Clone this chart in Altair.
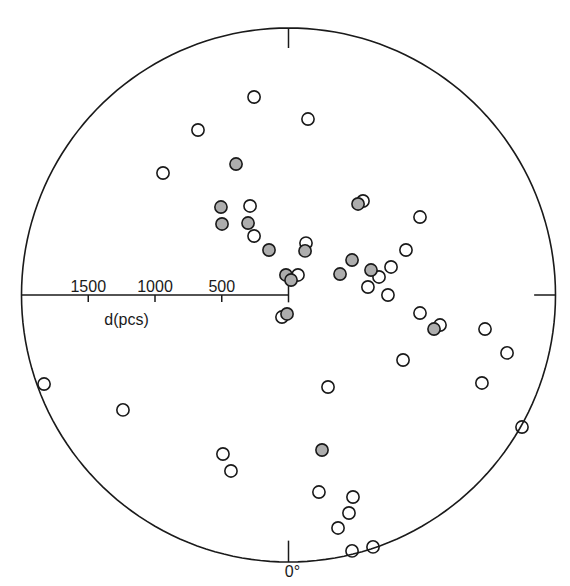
import altair as alt
import pandas as pd

# ---- data (projected positions in pc) ----
open_x = [-258, 146, -678, -940, -288, -258, 131, 71, -49, 558, 985, 880, 768, 678, 595,
          745, 985, 1135, 1472, 1637, 858, 1449, 1749, -1831, -1240, -491, -431, 296,
          228, 483, 453, 371, 476, 633]
open_y = [1483, 1318, 1236, 914, 667, 442, 389, 150, -165, 704, 584, 337, 210, 135, 60,
          0, -135, -225, -255, -434, -487, -659, -989, -667, -861, -1191, -1318, -689,
          -1476, -1513, -1633, -1745, -1917, -1887]

dot_x = [-393, -506, -498, -303, -146, 124, -19, 19, -11, 521, 476, 618, 386, 1090, 251]
dot_y = [981, 659, 532, 539, 337, 330, 150, 112, -142, 682, 262, 187, 157, -255, -1161]

tick_vals = [500, 1000, 1500]
tick_labels = ["500", "1000", "1500"]
R = 2000

# ---- layout ----
W, H = 554, 566
K = 0.1335          # px per pc
CX, CY = 280.5, 287  # centre in plot px
xs = alt.Scale(domain=[-CX / K, (W - CX) / K], nice=False, zero=False)
ys = alt.Scale(domain=[-(H - CY) / K, CY / K], nice=False, zero=False)
FONT = "Liberation Sans"
INK = "#1a1a1a"
FS = 16

pts_open = pd.DataFrame({"x": open_x, "y": open_y})
pts_dot = pd.DataFrame({"x": dot_x, "y": dot_y})

# outer circle
circle = alt.Chart(alt.sequence(0, 362, 2, as_="a")).transform_calculate(
    cx=f"{R}*sin(datum.a*PI/180)", cy=f"{R}*cos(datum.a*PI/180)"
).mark_line(color=INK, strokeWidth=1.6).encode(
    x=alt.X("cx:Q", scale=xs, axis=None),
    y=alt.Y("cy:Q", scale=ys, axis=None),
    order=alt.Order("a:Q"),
)

segs = pd.DataFrame({
    "x": [-R, 0, 0, R - 160, 0] + [-v for v in tick_vals],
    "x2": [0, 0, 0, R, 0] + [-v for v in tick_vals],
    "y": [0, 90, R - 150, 0, -R + 160] + [0] * 3,
    "y2": [0, -55, R, 0, -R] + [-52] * 3,
})
rules = alt.Chart(segs).mark_rule(color=INK, strokeWidth=1.5).encode(
    x=alt.X("x:Q", scale=xs, axis=None), x2="x2:Q",
    y=alt.Y("y:Q", scale=ys, axis=None), y2="y2:Q",
)

lab = pd.DataFrame({"x": [-v for v in tick_vals], "y": [0] * 3, "t": tick_labels})
labels = alt.Chart(lab).mark_text(font=FONT, fontSize=FS, color=INK, baseline="alphabetic",
                                  dy=-3).encode(
    x=alt.X("x:Q", scale=xs, axis=None), y=alt.Y("y:Q", scale=ys, axis=None), text="t:N")

dlab = alt.Chart(pd.DataFrame({"x": [-1213], "y": [-187], "t": ["d(pcs)"]})).mark_text(
    font=FONT, fontSize=FS, color=INK, baseline="middle").encode(
    x=alt.X("x:Q", scale=xs, axis=None), y=alt.Y("y:Q", scale=ys, axis=None), text="t:N")

zlab = alt.Chart(pd.DataFrame({"x": [30], "y": [-R], "t": ["0°"]})).mark_text(
    font=FONT, fontSize=FS, color=INK, baseline="alphabetic", dy=15).encode(
    x=alt.X("x:Q", scale=xs, axis=None), y=alt.Y("y:Q", scale=ys, axis=None), text="t:N")

open_layer = alt.Chart(pts_open).mark_point(shape="circle", filled=False, size=150,
                                            strokeWidth=1.6, color=INK, opacity=1).encode(
    x=alt.X("x:Q", scale=xs, axis=None), y=alt.Y("y:Q", scale=ys, axis=None))

dot_layer = alt.Chart(pts_dot).mark_point(shape="circle", filled=True, size=150,
                                          fill="#adadad", stroke=INK, strokeWidth=1.6,
                                          opacity=1).encode(
    x=alt.X("x:Q", scale=xs, axis=None), y=alt.Y("y:Q", scale=ys, axis=None))

chart = alt.layer(circle, rules, labels, dlab, zlab, open_layer, dot_layer).properties(
    width=W, height=H, autosize=alt.AutoSizeParams(type="none"),
    padding={"left": 0, "top": 0, "right": 0, "bottom": 6},
    background="white",
).configure_view(stroke=None)

chart.save("out.html", embed_options={"renderer": "svg", "actions": False})
